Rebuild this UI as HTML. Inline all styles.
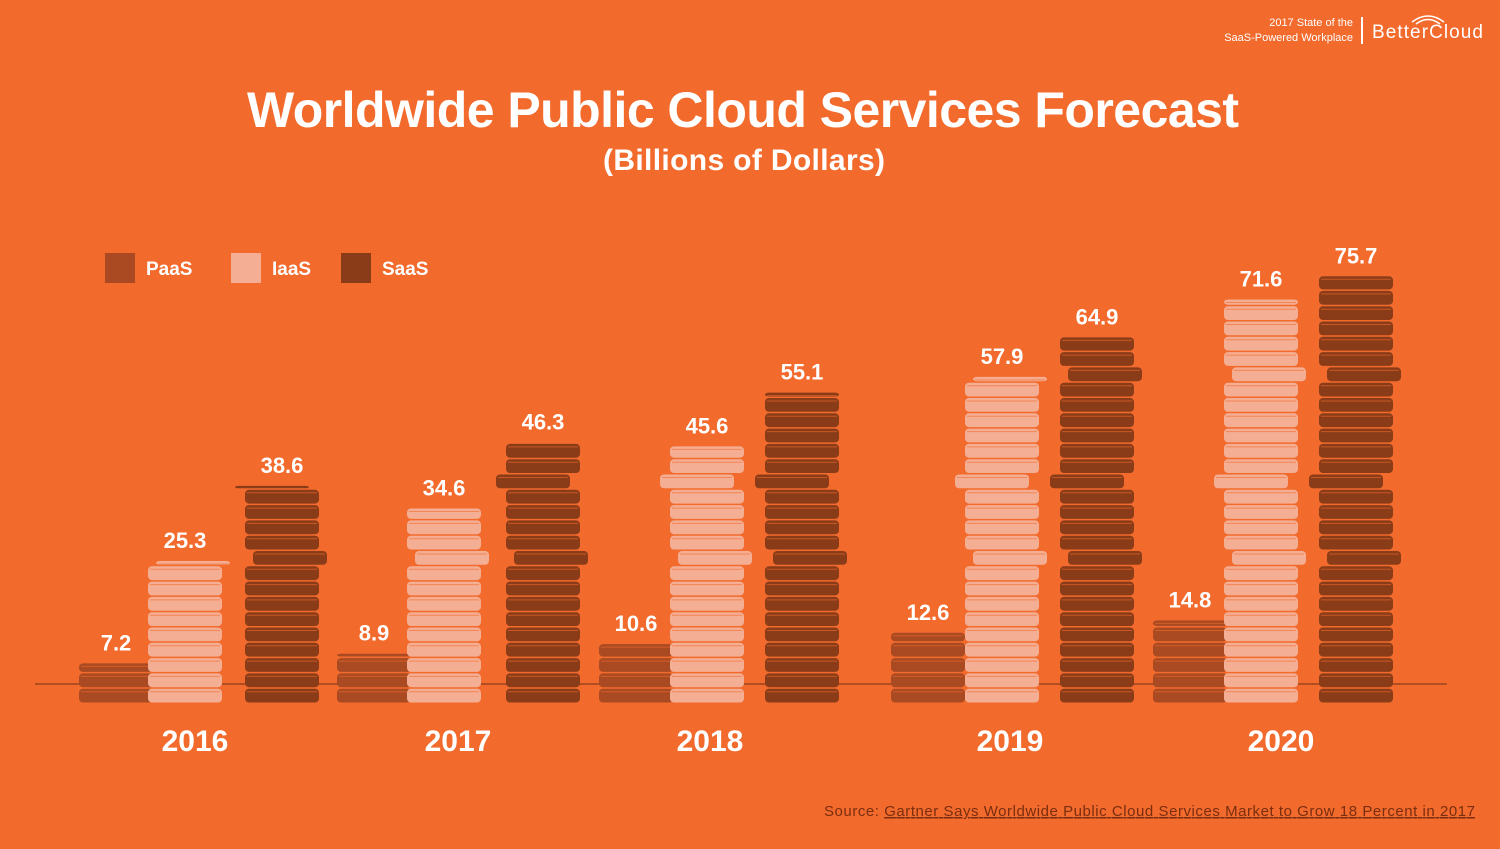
<!DOCTYPE html>
<html><head><meta charset="utf-8"><style>
body{margin:0;width:1500px;height:844px;background:#F26A2C;overflow:hidden;font-family:"Liberation Sans",sans-serif;}
</style></head><body>
<svg width="1500" height="844" viewBox="0 0 1500 844">
<rect width="1500" height="844" fill="#F26A2C"/>
<g fill="#fff">
<text x="1353" y="26" font-size="11" text-anchor="end">2017 State of the</text>
<text x="1353" y="41" font-size="11" text-anchor="end">SaaS-Powered Workplace</text>
<rect x="1361" y="17" width="2" height="27"/>
<text x="1372" y="38" font-size="19" textLength="111">BetterCloud</text>
<path d="M1412 22 Q1428 10 1444 22 M1416 24 Q1428 15 1440 24" stroke="#fff" fill="none" stroke-width="1.5"/>
</g>
<text x="247" y="127" font-size="50" font-weight="bold" fill="#fff" textLength="992" lengthAdjust="spacing">Worldwide Public Cloud Services Forecast</text>
<text x="603" y="170" font-size="30" font-weight="bold" fill="#fff" textLength="282" lengthAdjust="spacing">(Billions of Dollars)</text>
<g font-size="19" font-weight="bold" fill="#fff">
<rect x="105" y="253" width="30" height="30" fill="#A94A22"/><text x="146" y="275">PaaS</text>
<rect x="231" y="253" width="30" height="30" fill="#F4AE94"/><text x="272" y="275">IaaS</text>
<rect x="341" y="253" width="30" height="30" fill="#8A3C19"/><text x="382" y="275">SaaS</text>
</g>
<line x1="35" y1="684" x2="1447" y2="684" stroke="#8A3C19" stroke-width="1.2"/>
<g id="stacks"></g>
<text x="824" y="816" font-size="15" fill="#7a2e10" textLength="651" lengthAdjust="spacing">Source: <tspan text-decoration="underline">Gartner Says Worldwide Public Cloud Services Market to Grow 18 Percent in 2017</tspan></text>
</svg>
<script>
const years=["2016","2017","2018","2019","2020"];
const paas=[7.2,8.9,10.6,12.6,14.8];
const iaas=[25.3,34.6,45.6,57.9,71.6];
const saas=[38.6,46.3,55.1,64.9,75.7];
const NS="http://www.w3.org/2000/svg";
const base=703, scale=5.65, coinH=15.3, W=74;
const groupX=[195,458,710,1010,1281];
const seriesOffs=[[-79,-10,87],[-84,-14,85],[-74,-3,92],[-82,-8,87],[-91,-20,75]];
const cols=["#A94A22","#F4AE94","#8A3C19"];
const names=["paas","iaas","saas"];
const g=document.getElementById("stacks");
function y(v){return base-v*scale;}
function mk(t,a){const e=document.createElementNS(NS,t);for(const k in a)e.setAttribute(k,a[k]);return e;}
years.forEach((yr,i)=>{
  [paas,iaas,saas].forEach((arr,s)=>{
    const v=arr[i], cx=groupX[i]+seriesOffs[i][s], top=y(v);
    const grp=mk("g",{});
    
    
    let b=base, k=0;
    while(b-top>2){
      const h=Math.min(coinH,b-top);
      const off=(k===9||k===21)?8:(k===14?-10:0);
      const x=cx-W/2+off;
      grp.appendChild(mk("rect",{x:x,y:b-h+1,width:W,height:h-1.5,rx:4,fill:cols[s]}));
      grp.appendChild(mk("line",{x1:x+2,y1:b-h+4,x2:x+W-2,y2:b-h+4,stroke:"#F26A2C","stroke-width":1,opacity:0.6}));
      b-=h;k++;
    }
    g.appendChild(grp);
    const t=mk("text",{x:cx,y:top-12,"font-size":22,"font-weight":"bold",fill:"#fff","text-anchor":"middle"});
    t.textContent=v.toFixed(1);
    
    
    g.appendChild(t);
  });
  const yl=mk("text",{x:groupX[i],y:751,"font-size":30,"font-weight":"bold",fill:"#fff","text-anchor":"middle"});
  yl.textContent=yr;
  
  
  g.appendChild(yl);
});
</script>
</body></html>
